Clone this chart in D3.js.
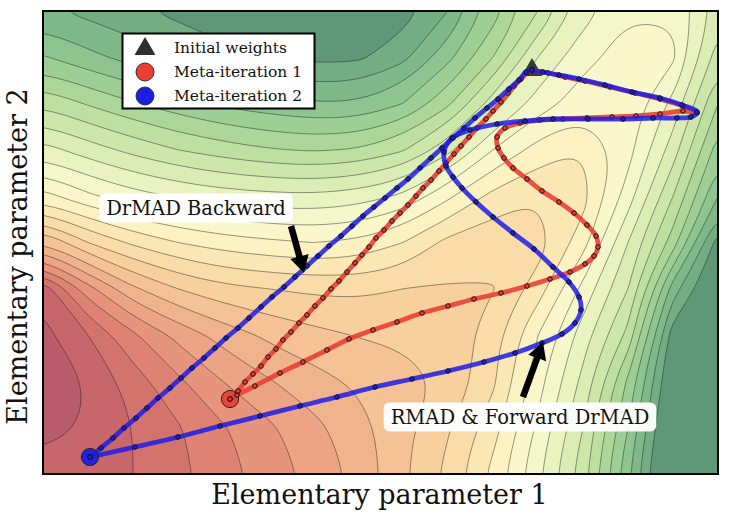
<!DOCTYPE html>
<html><head><meta charset="utf-8">
<script src="https://cdn.jsdelivr.net/npm/d3@7"></script>
<style>
html,body{margin:0;padding:0;background:#fff;}
svg{display:block;}
text{font-family:"DejaVu Serif",serif;fill:#111;}
</style></head>
<body>
<svg id="chart" width="730" height="518"></svg>
<script>
// ---------------- data ----------------
// loss-surface grid (parameter 1 across, parameter 2 rows, top row first)
const gridX = [0,45,90,135,180,225,270,315,360,405,450,495,540,585,630,675];
const gridY = [463,416.7,370.4,324.1,277.8,231.5,185.2,138.9,92.6,46.3,0];
const fieldRows = [
  [21.8,22.3,22.8,23.3,23.8,24.2,24.6,24.6,23.5,22.0,19.5,17.0,14.5,13.1,13.1,15.5],
  [19.9,20.7,21.4,22.0,22.6,23.0,23.3,23.2,22.3,20.3,18.0,15.0,13.3,12.6,12.8,16.5],
  [17.2,18.1,18.9,19.6,20.2,20.6,20.9,20.9,20.0,18.2,15.5,13.5,12.5,12.3,14.3,18.0],
  [14.6,15.5,16.3,17.0,17.5,17.9,18.1,17.9,17.1,15.3,13.0,11.6,11.0,12.6,15.5,19.5],
  [11.6,12.8,13.6,14.1,14.5,14.7,14.8,14.5,13.8,12.2,10.7,10.05,10.6,13.5,17.0,21.0],
  [7.0,9.0,10.2,11.0,11.5,11.8,12.0,11.8,11.0,9.7,9.3,9.5,11.6,15.0,18.5,23.5],
  [1.3,4.6,6.8,8.0,8.7,9.0,9.2,9.25,9.0,8.9,8.95,10.5,13.3,16.0,21.5,24.5],
  [0.7,2.0,3.8,5.3,6.4,7.2,7.7,8.05,8.1,8.3,9.6,12.0,14.5,17.3,23.6,25.0],
  [0.3,1.05,2.5,3.8,5.0,5.9,6.6,7.2,7.8,8.1,9.8,12.6,15.3,19.2,24.3,25.5],
  [0.6,1.1,2.0,2.9,3.9,4.8,5.7,6.6,7.7,8.9,10.6,13.2,16.0,20.0,24.9,26.0],
  [1.5,1.6,2.0,2.7,3.6,4.4,5.3,6.3,7.8,9.3,11.3,13.8,16.6,20.8,25.5,26.5]
];
const contourLevels = [1,2,3,4,5,6,7,8,9,10,11,12,13,14,15,16,17,18,19,20,21,22,23];
const colorValues = [0,1,2,3,4,5,6,7,8,9,10,11,12,13,14,15,16,17,18,19,20,21,22,23,24];
const colorHexes = ['#b0566b','#c0606a','#cd6b6b','#d97a70','#e38c78','#e99c80','#eeac88','#f2bb90','#f5c997','#f8d6a2','#fae2ae','#fbecba','#fbf5c8','#f8f8ce','#eef5c5','#e2f0ba','#d4e9ae','#c5e2a3','#b5db9c','#a5d296','#95c991','#86bf8c','#78b386','#6ca781','#5f9878'];

// initial weights
const initialWeights = [489,404];

// meta-iteration 1 (red)
const iter1Forward = [[489,404],[505,401],[522,397],[542,393],[567,387],[592,381],[617,375],[640,368],[654,361],[640,363],[617,360],[593,358],[569,357],[544,356],[520,355],[497,354],[477,351],[462,346],[454,337],[455,326],[461,316],[470,306],[484,295],[499,283],[516,272],[531,261],[544,249],[553,238],[555,227],[551,218],[542,210],[527,202],[507,195],[484,188],[458,181],[431,175],[405,168],[379,161],[354,152],[330,144],[306,135],[284,124],[260,112],[237,101],[212,88],[194,79],[187,75]];
const iter1Backward = [[489,404],[484,401],[478,395],[471,388],[465,381],[458,372],[450,363],[443,355],[434,346],[426,337],[418,328],[411,320],[403,311],[396,303],[388,294],[380,286],[373,278],[365,269],[357,261],[349,253],[341,244],[333,236],[326,227],[319,219],[312,211],[304,202],[296,193],[288,185],[280,176],[272,168],[264,159],[256,151],[248,142],[240,134],[233,125],[225,117],[218,108],[210,100],[202,92],[195,83],[187,75]];

// meta-iteration 2 (blue)
const iter2Forward = [[489,404],[500,402],[516,399],[536,395],[562,389],[589,382],[617,376],[639,369],[654,362],[648,357],[634,356],[610,356],[580,355],[545,355],[510,355],[482,353],[454,350],[427,344],[409,336],[401,322],[403,308],[410,297],[419,286],[433,272],[450,257],[470,241],[491,225],[510,207],[526,192],[536,177],[538,164],[532,151],[519,140],[499,131],[472,121],[441,112],[405,103],[369,95],[332,87],[294,77],[257,68],[217,58],[177,48],[135,37],[92,27],[47,17]];
const iter2Backward = [[47,17],[58,26],[70,36],[81,46],[93,56],[104,66],[115,76],[127,86],[138,96],[149,106],[161,116],[172,126],[183,136],[195,146],[206,156],[218,167],[229,177],[241,187],[252,197],[264,208],[275,218],[286,228],[298,238],[309,248],[320,258],[331,267],[342,276],[354,286],[365,295],[377,306],[388,316],[399,326],[410,336],[421,346],[432,356],[444,366],[455,375],[466,385],[476,394],[483,402],[489,404]];

const legendLabels = ['Initial weights','Meta-iteration 1','Meta-iteration 2'];
const annotationTexts = ['DrMAD Backward','RMAD & Forward DrMAD'];
const axisTitles = ['Elementary parameter 1','Elementary parameter 2'];

// ---------------- drawing ----------------
const svg = d3.select('#chart');
const W0 = 43, W1 = 718, H0 = 11, H1 = 474;
const x = d3.scaleLinear().domain([0,675]).range([W0,W1]);
const y = d3.scaleLinear().domain([0,463]).range([H1,H0]);
const color = d3.scaleLinear().domain(colorValues).range(colorHexes).interpolate(d3.interpolateRgb).clamp(true);

svg.append('rect').attr('width',730).attr('height',518).attr('fill','#fff');
svg.append('defs').append('clipPath').attr('id','plotclip')
  .append('rect').attr('x',W0).attr('y',H0).attr('width',W1-W0).attr('height',H1-H0);

const plot = svg.append('g').attr('clip-path','url(#plotclip)');

// contour field
const nx = gridX.length, ny = gridY.length, pad = 2;
const GW = nx + 2*pad, GH = ny + 2*pad;
const values = [];
for (let j = 0; j < GH; j++) for (let i = 0; i < GW; i++) {
  const gj = Math.max(0, Math.min(ny-1, j-pad));
  const gi = Math.max(0, Math.min(nx-1, i-pad));
  values.push(fieldRows[gj][gi]);
}
const stepX = gridX[1]-gridX[0], stepY = gridY[0]-gridY[1];
const toPx = ([cx, cy]) => [x(gridX[0] + (cx-0.5-pad)*stepX), y(gridY[0] - (cy-0.5-pad)*stepY)];
const contours = d3.contours().size([GW,GH]).thresholds(contourLevels)(values);
const ringLine = d3.line().curve(d3.curveBasisClosed);
const mpPath = mp => mp.coordinates.map(poly => poly.map(r => ringLine(r.slice(0,-1).map(toPx))).join('')).join('');

plot.append('rect').attr('x',W0).attr('y',H0).attr('width',W1-W0).attr('height',H1-H0)
  .attr('fill', color(contourLevels[0]-0.5));
const cpaths = contours.map(c => ({v:c.value, d: mpPath(c)}));
plot.selectAll('path.fill').data(cpaths).join('path').attr('class','fill')
  .attr('d', d => d.d).attr('fill-rule','evenodd')
  .attr('fill', (d,i) => i === cpaths.length-1 ? colorHexes[colorHexes.length-1] : color(d.v+0.5));
plot.selectAll('path.iso').data(cpaths).join('path').attr('class','iso')
  .attr('d', d => d.d).attr('fill','none').attr('stroke','#1a1a1a')
  .attr('stroke-width',0.6).attr('stroke-opacity',0.75);

// paths
const lineGen = d3.line().x(d => x(d[0])).y(d => y(d[1])).curve(d3.curveCatmullRom.alpha(0.5));
const RED = '#ea3f33', BLUE = '#1d1de6';

const tri = d3.symbol().type(d3.symbolTriangle).size(190);
plot.append('path').attr('d', tri()).attr('transform',`translate(${x(initialWeights[0])},${y(initialWeights[1])})`)
  .attr('fill','#2e2e2e').attr('fill-opacity',0.95);

function drawIter(forward, backward, col, op) {
  const g = plot.append('g');
  [forward, backward].forEach(pts => {
    g.append('path').attr('d', lineGen(pts)).attr('fill','none').attr('stroke',col)
      .attr('stroke-width',4.8).attr('stroke-opacity',op).attr('stroke-linejoin','round').attr('stroke-linecap','round');
  });
  const end = forward[forward.length-1];
  g.append('circle').attr('cx',x(end[0])).attr('cy',y(end[1])).attr('r',8.6)
    .attr('fill',col).attr('fill-opacity',0.95).attr('stroke','#222').attr('stroke-width',1);
  [forward, backward].forEach(pts => {
    g.selectAll(null).data(pts).join('circle').attr('cx',d=>x(d[0])).attr('cy',d=>y(d[1])).attr('r',2.3)
      .attr('fill',col).attr('stroke','#111').attr('stroke-width',1);
  });
}
drawIter(iter1Forward, iter1Backward, RED, 0.9);
drawIter(iter2Forward, iter2Backward, BLUE, 0.85);

// frame
svg.append('rect').attr('x',W0).attr('y',H0).attr('width',W1-W0).attr('height',H1-H0)
  .attr('fill','none').attr('stroke','#000').attr('stroke-width',2);

// annotations
function arrowPath(p0, p1, shaftW, headW, headL) {
  const dx = p1[0]-p0[0], dy = p1[1]-p0[1], L = Math.hypot(dx,dy);
  const ux = dx/L, uy = dy/L, nx = -uy, ny = ux;
  const bx = p1[0]-ux*headL, by = p1[1]-uy*headL;
  const pts = [[p0[0]+nx*shaftW/2,p0[1]+ny*shaftW/2],[bx+nx*shaftW/2,by+ny*shaftW/2],[bx+nx*headW/2,by+ny*headW/2],p1,
    [bx-nx*headW/2,by-ny*headW/2],[bx-nx*shaftW/2,by-ny*shaftW/2],[p0[0]-nx*shaftW/2,p0[1]-ny*shaftW/2]];
  return 'M' + pts.map(p => p[0].toFixed(1)+','+p[1].toFixed(1)).join('L') + 'Z';
}
const annotations = [
  {text: annotationTexts[0], at: [153,266], from: [248,248], to: [261,201]},
  {text: annotationTexts[1], at: [477,57], from: [480,77], to: [500,132]}
];
annotations.forEach(a => {
  svg.append('path').attr('d', arrowPath([x(a.from[0]),y(a.from[1])],[x(a.to[0]),y(a.to[1])],6.5,19,17)).attr('fill','#000');
  const g = svg.append('g');
  const t = g.append('text').attr('x',x(a.at[0])).attr('y',y(a.at[1])).attr('text-anchor','middle')
    .attr('dominant-baseline','central').attr('font-size',19.5).text(a.text);
  const bb = t.node().getBBox();
  g.insert('rect','text').attr('x',bb.x-7).attr('y',bb.y-3).attr('width',bb.width+14).attr('height',bb.height+6)
    .attr('rx',6).attr('fill','#fff').attr('fill-opacity',0.97);
});

// legend
const lg = svg.append('g');
lg.append('rect').attr('x',122.5).attr('y',33.5).attr('width',192).attr('height',75)
  .attr('fill','#fff').attr('stroke','#000').attr('stroke-width',2);
const legendRows = [48,72,96];
lg.append('path').attr('d', tri()).attr('transform',`translate(145,${legendRows[0]+1})`).attr('fill','#2e2e2e');
lg.append('circle').attr('cx',145).attr('cy',legendRows[1]).attr('r',9).attr('fill',RED).attr('stroke','#333').attr('stroke-width',1);
lg.append('circle').attr('cx',145).attr('cy',legendRows[2]).attr('r',9).attr('fill',BLUE).attr('stroke','#333').attr('stroke-width',1);
legendLabels.forEach((s,i) => lg.append('text').attr('x',174).attr('y',legendRows[i]).attr('dominant-baseline','central')
  .attr('font-size',15.5).text(s));

// axis titles
svg.append('text').attr('x',(W0+W1)/2 - 1).attr('y',504).attr('text-anchor','middle').attr('font-size',27).text(axisTitles[0]);
svg.append('text').attr('transform',`translate(27,${(H0+H1)/2 + 14}) rotate(-90)`).attr('text-anchor','middle').attr('font-size',27).text(axisTitles[1]);
</script>
</body></html>
